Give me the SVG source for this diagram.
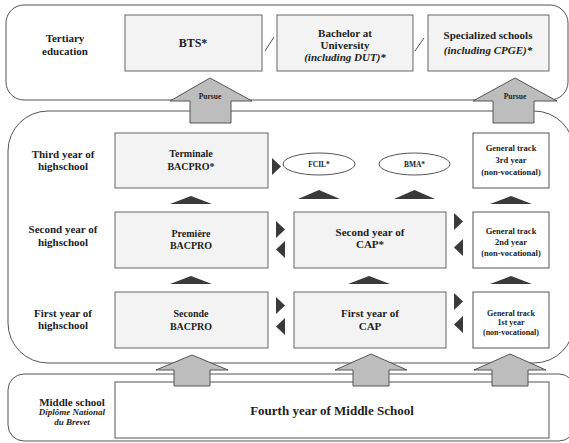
<svg xmlns="http://www.w3.org/2000/svg" width="569" height="443" viewBox="0 0 569 443">
<style>
.panel{fill:#fff;stroke:#555;stroke-width:1}
.box{fill:#f3f3f3;stroke:#666;stroke-width:1}
.wbox{fill:#fff;stroke:#555;stroke-width:1}
.ell{fill:#fff;stroke:#555;stroke-width:1}
.tri{fill:#3a3a3a}
.big{fill:#bdbdbd;stroke:#555;stroke-width:1}
.slash{stroke:#555;stroke-width:1;fill:none}
text{font-family:"Liberation Serif","Times New Roman",serif;font-weight:bold;fill:#222;text-anchor:middle}
.it{font-style:italic}
</style>
<rect width="569" height="443" fill="#fff"/>
<g id="panels">
<rect id="panel-tertiary" class="panel" x="6" y="5" width="562" height="95" rx="18"/>
<rect id="panel-highschool" class="panel" x="8" y="111" width="566" height="252" rx="40"/>
<rect id="panel-middle" class="panel" x="8" y="374" width="567" height="67" rx="16"/>
</g>
<g id="labels" font-size="11">
<text x="65" y="42" font-size="11">Tertiary</text>
<text x="65" y="55" font-size="11">education</text>
<text x="63" y="158" font-size="11">Third year of</text>
<text x="63" y="170" font-size="11">highschool</text>
<text x="63" y="233" font-size="11">Second year of</text>
<text x="63" y="246" font-size="11">highschool</text>
<text x="63" y="317" font-size="11">First year of</text>
<text x="63" y="329" font-size="11">highschool</text>
<text x="72" y="406" font-size="11">Middle school</text>
<text x="72" y="415" font-size="9" class="it">Diplôme National</text>
<text x="72" y="425" font-size="9" class="it">du Brevet</text>
</g>
<g id="node-bts"><rect class="box" x="125" y="15" width="137" height="56"/><text x="193" y="47" font-size="12">BTS*</text></g>
<g id="node-bachelor"><rect class="box" x="277" y="15" width="136" height="56"/>
<text x="345" y="37" font-size="11">Bachelor at</text>
<text x="345" y="49" font-size="11">University</text>
<text x="345" y="61" font-size="11" class="it">(including DUT)*</text></g>
<g id="node-specialized"><rect class="box" x="428" y="15" width="121" height="56"/>
<text x="488" y="39" font-size="11">Specialized schools</text>
<text x="488" y="54" font-size="11" class="it">(including CPGE)*</text></g>
<g id="node-terminale"><rect class="box" x="115" y="133" width="153" height="55"/>
<text x="191" y="157" font-size="10">Terminale</text>
<text x="191" y="170" font-size="10">BACPRO*</text></g>
<g id="node-premiere"><rect class="box" x="115" y="212" width="153" height="56"/>
<text x="191" y="237" font-size="10">Première</text>
<text x="191" y="249" font-size="10">BACPRO</text></g>
<g id="node-seconde"><rect class="box" x="115" y="292" width="153" height="56"/>
<text x="191" y="317" font-size="10">Seconde</text>
<text x="191" y="330" font-size="10">BACPRO</text></g>
<g id="node-fcil"><ellipse class="ell" cx="319" cy="164" rx="36" ry="11"/><text x="319" y="167" font-size="7.5">FCIL*</text></g>
<g id="node-bma"><ellipse class="ell" cx="414.5" cy="164" rx="35.5" ry="11"/><text x="414.5" y="167" font-size="7.5">BMA*</text></g>
<g id="node-cap2"><rect class="box" x="294" y="212" width="152" height="56"/>
<text x="370" y="236" font-size="11">Second year of</text>
<text x="370" y="248" font-size="11">CAP*</text></g>
<g id="node-cap1"><rect class="box" x="294" y="292" width="152" height="56"/>
<text x="370" y="317" font-size="11">First year of</text>
<text x="370" y="330" font-size="11">CAP</text></g>
<g id="node-gen3"><rect class="wbox" x="473" y="133" width="76" height="55"/>
<text x="511" y="151" font-size="8.5">General track</text>
<text x="511" y="163" font-size="8.5">3rd year</text>
<text x="511" y="175" font-size="8.5">(non-vocational)</text></g>
<g id="node-gen2"><rect class="wbox" x="473" y="212" width="76" height="56"/>
<text x="511" y="234" font-size="8.5">General track</text>
<text x="511" y="245" font-size="8.5">2nd year</text>
<text x="511" y="256" font-size="8.5">(non-vocational)</text></g>
<g id="node-gen1"><rect class="wbox" x="473" y="292" width="76" height="56"/>
<text x="511" y="316" font-size="8">General track</text>
<text x="511" y="325" font-size="8">1st year</text>
<text x="511" y="335" font-size="8">(non-vocational)</text></g>
<g id="node-fourth"><rect class="wbox" x="115" y="382" width="434" height="56"/>
<text x="332" y="415" font-size="13">Fourth year of Middle School</text></g>
<g id="connectors">
<line class="slash" x1="265" y1="51" x2="274" y2="37"/>
<line class="slash" x1="415" y1="51" x2="424" y2="38"/>
<polygon class="big" points="210,78 252,101 231,101 231,123 190,123 190,101 170,101"/>
<text x="210" y="99" font-size="7.5">Pursue</text>
<polygon class="big" points="515,78 557,101 534,101 534,123 493,123 493,101 473,101"/>
<text x="515" y="99" font-size="7.5">Pursue</text>
<polygon class="big" points="192,355 228,370 210,370 210,386 174,386 174,370 156,370"/>
<polygon class="big" points="371,354 407,370 389,370 389,386 353,386 353,370 335,370"/>
<polygon class="big" points="510,354 546,370 528,370 528,386 492,386 492,370 474,370"/>
<polygon class="tri" points="170,204 212,204 191,196"/>
<polygon class="tri" points="170,284 212,284 191,276"/>
<polygon class="tri" points="348,284 390,284 369,276"/>
<polygon class="tri" points="298,199 340,199 319,190"/>
<polygon class="tri" points="394,199 435,199 414.5,190"/>
<polygon class="tri" points="490,284 532,284 511,276"/>
<polygon class="tri" points="490,204 532,204 511,196"/>
<polygon class="tri" points="272,158 281,166.5 272,175"/>
<polygon class="tri" points="276,221 285,229.5 276,238"/>
<polygon class="tri" points="285,241 276,249.5 285,258"/>
<polygon class="tri" points="454,213 463,221.5 454,230"/>
<polygon class="tri" points="463,239 454,247.5 463,256"/>
<polygon class="tri" points="276,297 285,305.5 276,314"/>
<polygon class="tri" points="285,318 276,326.5 285,335"/>
<polygon class="tri" points="454,293 463,301.5 454,310"/>
<polygon class="tri" points="463,316 454,324.5 463,333"/>
</g>
</svg>
